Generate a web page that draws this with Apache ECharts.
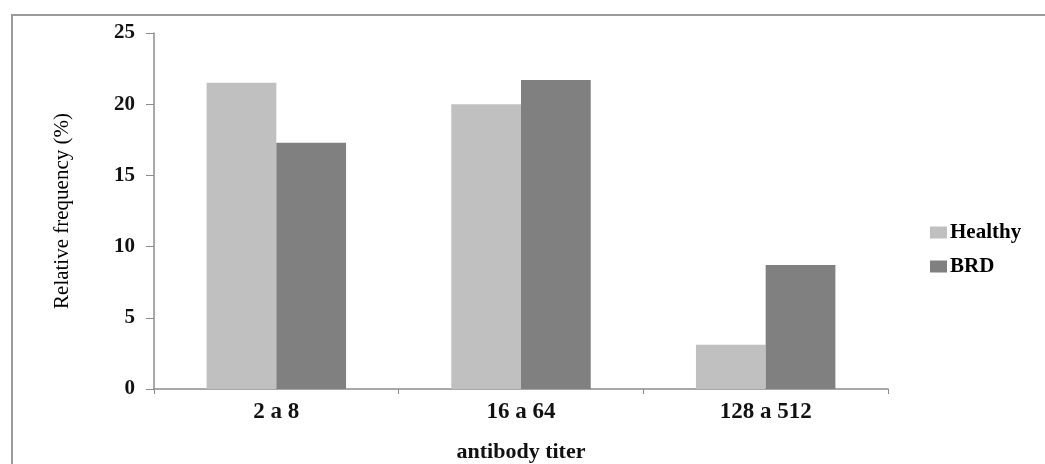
<!DOCTYPE html>
<html><head><meta charset="utf-8">
<script src="https://cdn.jsdelivr.net/npm/echarts@6/dist/echarts.min.js"></script>
<style>html,body{margin:0;padding:0;background:#fff}#c{width:1045px;height:464px}</style>
</head><body><div id="c"></div>
<script>
const categories = ['2 a 8', '16 a 64', '128 a 512'];
const healthy = [21.5, 20.0, 3.1];
const brd = [17.3, 21.7, 8.7];
const yTicks = [0, 5, 10, 15, 20, 25];

const serif = '"Liberation Serif","Times New Roman",serif';
const chart = echarts.init(document.getElementById('c'), null, {renderer: 'canvas'});
chart.setOption({
  animation: false,
  backgroundColor: '#fff',
  graphic: [
    {type: 'polyline', shape: {points: [[12, 470], [12, 15], [1050, 15]]}, style: {stroke: '#9a9a9a', lineWidth: 2, fill: null}}
  ],
  grid: {left: 154, right: 157, top: 33, bottom: 75, containLabel: false, outerBoundsMode: 'none'},
  legend: {
    orient: 'vertical', left: 925, top: 217, itemGap: 13, itemWidth: 17, itemHeight: 12,
    icon: 'rect',
    textStyle: {fontFamily: serif, fontWeight: 'bold', fontSize: 21, color: '#000', padding: [0, 0, 0, -2]},
    data: ['Healthy', 'BRD']
  },
  xAxis: {
    type: 'category', data: categories,
    axisLine: {lineStyle: {color: '#8c8c8c', width: 1.5}},
    axisTick: {show: true, length: 5, lineStyle: {color: '#8c8c8c'}},
    axisLabel: {fontFamily: serif, fontWeight: 'bold', fontSize: 23, color: '#111', margin: 12},
    name: 'antibody titer', nameLocation: 'middle', nameGap: 52,
    nameTextStyle: {fontFamily: serif, fontWeight: 'bold', fontSize: 22, color: '#111'}
  },
  yAxis: {
    type: 'value', min: 0, max: 25, interval: 5,
    axisLine: {show: true, lineStyle: {color: '#8c8c8c', width: 1.5}},
    axisTick: {show: true, length: 8, inside: false, lineStyle: {color: '#8c8c8c'}},
    splitLine: {show: false},
    axisLabel: {fontFamily: serif, fontWeight: 'bold', fontSize: 21, color: '#111', margin: 19,
      formatter: v => yTicks.includes(v) ? String(v) : ''},
    name: 'Relative frequency (%)', nameLocation: 'middle', nameGap: 81,
    nameTextStyle: {fontFamily: serif, fontSize: 21, color: '#000'}
  },
  series: [
    {name: 'Healthy', type: 'bar', data: healthy, itemStyle: {color: '#c0c0c0'}, barGap: '0%', barCategoryGap: '43%'},
    {name: 'BRD', type: 'bar', data: brd, itemStyle: {color: '#808080'}, barGap: '0%', barCategoryGap: '43%'}
  ]
});
</script></body></html>
